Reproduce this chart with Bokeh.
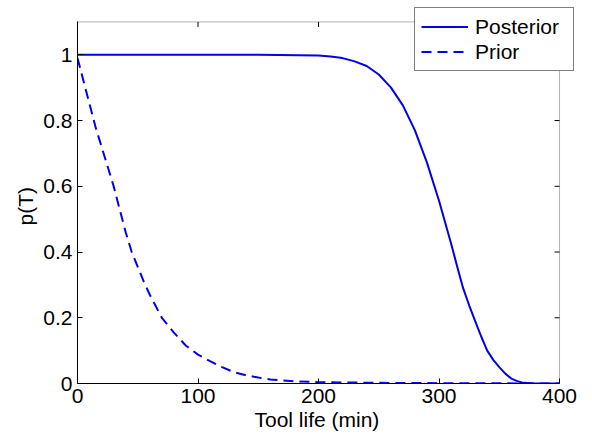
import math
from bokeh.plotting import figure
from bokeh.models import (Range1d, FixedTicker, Legend, LegendItem, BoxAnnotation, Title)
from bokeh.embed import file_html
from bokeh.resources import INLINE

# ---- data ----
posterior_x = [0, 50, 100, 150, 200, 210, 220, 230, 240, 250, 260, 270, 280, 290,
               300, 310, 315, 320, 325, 330, 335, 340, 345, 350, 355, 360, 365,
               370, 380, 400]
posterior_y = [1.0, 1.0, 1.0, 1.0, 0.998, 0.995, 0.99, 0.98, 0.966, 0.94, 0.901, 0.846,
               0.77, 0.672, 0.556, 0.426, 0.357, 0.29, 0.238, 0.19, 0.143, 0.10,
               0.072, 0.05, 0.03, 0.015, 0.007, 0.002, 0.0, 0.0]

prior_x = [0, 5, 10, 15, 20, 25, 30, 35, 40, 45, 50, 55, 60, 65, 70, 80, 90, 100,
           110, 120, 130, 140, 150, 160, 180, 200, 250, 300, 400]
prior_y = [0.99, 0.92, 0.85, 0.78, 0.72, 0.66, 0.60, 0.53, 0.46, 0.40, 0.355, 0.31,
           0.27, 0.235, 0.20, 0.155, 0.115, 0.088, 0.068, 0.05, 0.034, 0.025, 0.018,
           0.012, 0.007, 0.004, 0.002, 0.001, 0.0]

x_ticks = [0, 100, 200, 300, 400]
y_ticks = [0, 0.2, 0.4, 0.6, 0.8, 1.0]
y_tick_labels = ["0", "0.2", "0.4", "0.6", "0.8", "1"]
x_lim = (0, 400)
y_lim = (0, 1.1)

series_names = ["Posterior", "Prior"]
x_label = "Tool life (min)"
y_label = "p(T)"

FONT = "Liberation Sans"
FS = "21px"

# the frame is extended up and right so the legend (which sticks out of the
# axes box, as in the reference) is not clipped; the axes box is drawn at x_lim/y_lim
p = figure(width=592, height=435, output_backend="svg", toolbar_location=None,
           x_range=Range1d(0, 417.4), y_range=Range1d(0, 1.150),
           min_border_left=77, min_border_right=12, min_border_top=5,
           min_border_bottom=52)

p.background_fill_color = "white"
p.border_fill_color = "white"
p.outline_line_color = None
p.xgrid.visible = False
p.ygrid.visible = False

def style_axis(ax):
    ax.axis_line_color = "black"
    ax.axis_line_width = 1
    ax.major_tick_in = 5
    ax.major_tick_out = 0
    ax.minor_tick_line_color = None
    ax.major_tick_line_color = "black"
    ax.major_label_text_font = FONT
    ax.major_label_text_font_size = FS
    ax.major_label_text_color = "black"

p.xaxis.ticker = FixedTicker(ticks=x_ticks)
p.yaxis.ticker = FixedTicker(ticks=y_ticks)
p.yaxis.major_label_overrides = {t: l for t, l in zip(y_ticks, y_tick_labels)}
for ax in p.xaxis:
    style_axis(ax)
    ax.bounds = x_lim
    ax.major_label_standoff = 5
for ax in p.yaxis:
    style_axis(ax)
    ax.bounds = y_lim
    ax.major_label_standoff = 5

# axis labels as titles so they can be centred on the axes box (not the wider frame)
p.add_layout(Title(text=x_label, align="left", offset=177, standoff=0,
                   text_font=FONT, text_font_size=FS, text_font_style="normal",
                   text_color="black"), "below")
p.add_layout(Title(text=y_label, align="left", offset=158, standoff=8,
                   text_font=FONT, text_font_size=FS, text_font_style="normal",
                   text_color="black"), "left")

# axes box
box = BoxAnnotation(left=x_lim[0], right=x_lim[1], bottom=y_lim[0], top=y_lim[1],
                    fill_color=None, line_color="black", line_width=1, level="underlay")
p.add_layout(box)

# inward ticks on top and right edges of the box
p.ray(x=x_ticks, y=[y_lim[1]] * len(x_ticks), length=5, length_units="screen",
      angle=-math.pi / 2, line_color="black", line_width=1)
p.ray(x=[x_lim[1]] * len(y_ticks), y=y_ticks, length=5, length_units="screen",
      angle=math.pi, line_color="black", line_width=1)

r_post = p.line(posterior_x, posterior_y, line_color="#0000ee", line_width=2)
r_prior = p.line(prior_x, prior_y, line_color="#0000ee", line_width=2, line_dash="10 6")

legend = Legend(items=[LegendItem(label=series_names[0], renderers=[r_post]),
                       LegendItem(label=series_names[1], renderers=[r_prior])],
                location=(337, 312))
legend.border_line_color = "black"
legend.border_line_width = 1
legend.background_fill_color = "white"
legend.background_fill_alpha = 1.0
legend.padding = 6
legend.spacing = 0
legend.margin = 0
legend.glyph_width = 47
legend.glyph_height = 25
legend.label_height = 25
legend.label_width = 92
legend.label_standoff = 7
legend.label_text_font = FONT
legend.label_text_font_size = FS
legend.label_text_color = "black"
p.add_layout(legend, "center")

open("out.html", "w").write(file_html(p, INLINE))
